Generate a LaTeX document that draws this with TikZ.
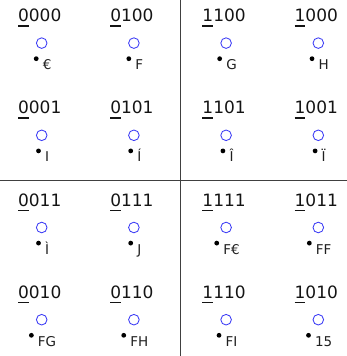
\documentclass[tikz,border=0pt]{standalone}
\usepackage{fontspec}
\setmainfont{DejaVu Sans}
\definecolor{ringblue}{HTML}{3A3AF5}
\newlength\ulwd
\newcommand\firstul[2]{\settowidth\ulwd{#1}\rlap{\rule[-5pt]{\ulwd}{1.6pt}}#1#2}
\tikzset{
  code/.style={font=\fontsize{17}{20}\selectfont, text=black!92, inner sep=0pt, anchor=base},
  ring/.style={circle, draw=ringblue, line width=0.85pt, minimum size=10.6pt, inner sep=0pt},
  sublab/.style={font=\fontsize{13.5}{15}\selectfont, text=black!88, inner sep=0pt, anchor=base},
  divider/.style={draw=black!75, line width=0.9pt}
}
\begin{document}
\begin{tikzpicture}[x=1pt,y=-1pt]
\useasboundingbox (0,0) rectangle (347,356);
\foreach \a/\b/\lab [count=\i from 0] in {
  0/000/€, 0/100/F, 1/100/G, 1/000/H,
  0/001/I, 0/101/Í, 1/101/Î, 1/001/Ï,
  0/011/Ì, 0/111/J, 1/111/F€, 1/011/FF,
  0/010/FG, 0/110/FH, 1/110/FI, 1/010/15}{
  \pgfmathtruncatemacro\cc{mod(\i,4)}
  \pgfmathtruncatemacro\rr{div(\i,4)}
  \pgfmathsetmacro\cx{41.7+92.2*\cc}
  \pgfmathsetmacro\by{21.7+92.2*\rr}
  \node[code] (t\i) at (\cx-2,\by) {\firstul{\a}{\b}};
  \node[ring] (c\i) at (\cx,\by+21.4) {};
  \node[sublab] (l\i) at (\cx+1,\by+48) {\hspace{8.8pt}\lab};
  \fill[black] ([xshift=2.4pt,yshift=11pt]l\i.base west) circle (2.4pt);
}
\coordinate (vt) at (180.3,0);
\coordinate (vb) at (180.3,356);
\coordinate (hl) at (0,180.7);
\coordinate (hr) at (347,180.7);
\draw[divider] (vt) -- (vb);
\draw[divider] (hl) -- (hr);
\end{tikzpicture}
\end{document}
